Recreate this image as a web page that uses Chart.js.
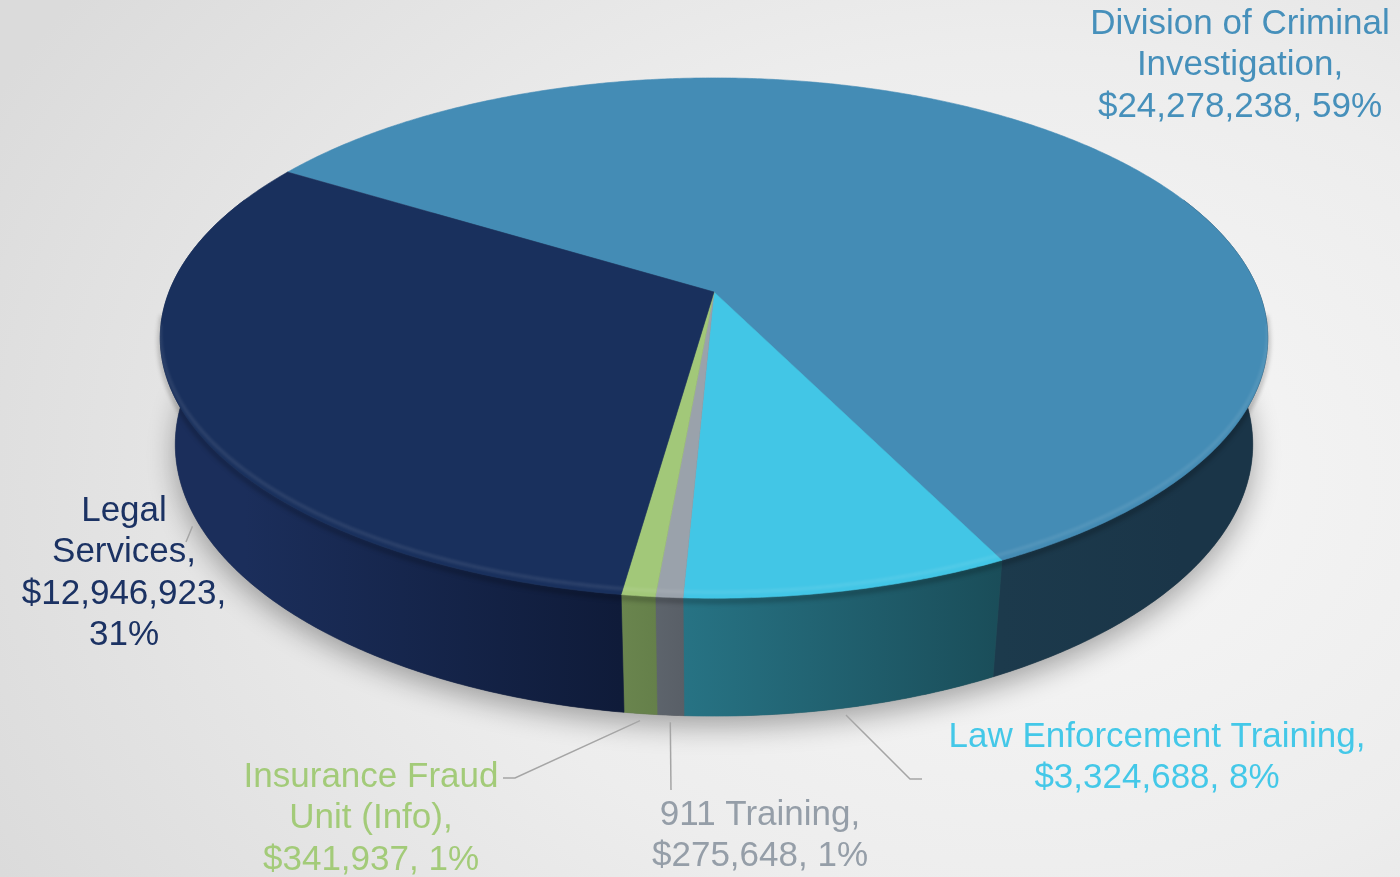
<!DOCTYPE html>
<html>
<head>
<meta charset="utf-8">
<style>
  html, body { margin: 0; padding: 0; }
  body {
    width: 1400px; height: 877px; overflow: hidden;
    background: radial-gradient(ellipse 1150px 850px at 1020px 480px, #f7f7f7 0%, #ededed 50%, #dbdbdb 100%);
  }
  #wrap { position: relative; width: 1400px; height: 877px; }
</style>
<script src="https://cdn.jsdelivr.net/npm/chart.js@4/dist/chart.umd.min.js"></script>
</head>
<body>
<div id="wrap"><canvas id="pie" width="1400" height="877"></canvas></div>
<script>
// data
const categories = ['Division of Criminal Investigation', 'Law Enforcement Training', '911 Training', 'Insurance Fraud Unit (Info)', 'Legal Services'];
const amounts = [24278238, 3324688, 275648, 341937, 12946923];
const labelNames = ['Division of Criminal\nInvestigation,', 'Law Enforcement Training,', '911 Training,', 'Insurance Fraud\nUnit (Info),', 'Legal\nServices,'];
const valueBreak = [' ', ' ', ' ', ' ', '\n'];

// styles
const topColors = ['#448cb5', '#42c6e6', '#9aa2ab', '#a2c879', '#19305d'];
const sideColors = [['#1a3548', '#1c3a4c'], ['#1a4d59', '#277384'], ['#595f67', '#5d646c'], ['#65804a', '#6a854e'], ['#0f1b39', '#1b2e5b']];
const labelColors = ['#4690bb', '#44c8e8', '#959ea8', '#a3cb79', '#1b3263'];
const labelPos = [[1240, 24], [1157, 737], [760, 815], [371, 777], [124, 511]];
// leader: elbow points after the rim start (null = no leader)
const leaderPts = [null, [[910, 779], [922, 779]], [[671, 790]], [[515, 778], [503, 778]], [[186, 542]]];

// perspective geometry of the pie disc
const geo = { cx: 714, cy: 292, A: 545, B: 252, k: 0.177, E: 108.5, m: 0.027 };

function proj(t, low) {
  const u = Math.cos(t), v = Math.sin(t);
  const w = 1 - geo.k * v + (low ? geo.m : 0);
  return [geo.cx + geo.A * u / w, geo.cy + (geo.B * v + (low ? geo.E : 0)) / w];
}

function steps(a, b) {
  const n = Math.max(2, Math.ceil(Math.abs(b - a) / 0.008));
  const out = [];
  for (let i = 0; i <= n; i++) out.push(a + (b - a) * i / n);
  return out;
}

// front parts of [s, e] that need a side wall
function frontParts(s, e) {
  const lo = -0.4, hi = Math.PI + 0.4, parts = [];
  for (let j = -1; j <= 1; j++) {
    const a = Math.max(s, lo + j * 2 * Math.PI), b = Math.min(e, hi + j * 2 * Math.PI);
    if (b > a) parts.push([a, b]);
  }
  return parts;
}

const pie3d = {
  id: 'pie3d',
  beforeDatasetsDraw(chart) {
    const ctx = chart.ctx;
    const arcs = chart.getDatasetMeta(0).data;

    // soft shadow under the disc
    ctx.save();
    ctx.beginPath();
    steps(0, 2 * Math.PI).forEach((t, i) => { const p = proj(t, true); i ? ctx.lineTo(p[0], p[1]) : ctx.moveTo(p[0], p[1]); });
    ctx.closePath();
    ctx.shadowColor = 'rgba(0,0,0,0.33)';
    ctx.shadowBlur = 28;
    ctx.shadowOffsetY = 10;
    ctx.fillStyle = '#555';
    ctx.fill();
    ctx.restore();

    // side walls
    arcs.forEach((arc, i) => {
      frontParts(arc.startAngle, arc.endAngle).forEach(([a, b]) => {
        const top = steps(a, b).map(t => proj(t, false));
        const low = steps(b, a).map(t => proj(t, true));
        ctx.beginPath();
        top.concat(low).forEach((p, j) => { j ? ctx.lineTo(p[0], p[1]) : ctx.moveTo(p[0], p[1]); });
        ctx.closePath();
        const g = ctx.createLinearGradient(top[0][0], 0, top[top.length - 1][0], 0);
        g.addColorStop(0, sideColors[i][0]);
        g.addColorStop(1, sideColors[i][1]);
        ctx.fillStyle = g;
        ctx.fill();
        ctx.strokeStyle = g;
        ctx.lineWidth = 0.6;
        ctx.stroke();
      });
    });

    // dark soft edge just under the top rim
    ctx.save();
    ctx.beginPath();
    steps(0.08, Math.PI - 0.08).forEach((t, i) => { const p = proj(t, false); i ? ctx.lineTo(p[0], p[1] + 3) : ctx.moveTo(p[0], p[1] + 3); });
    ctx.strokeStyle = 'rgba(0,0,0,0.22)';
    ctx.lineWidth = 5;
    ctx.filter = 'blur(2px)';
    ctx.stroke();
    ctx.restore();

    // top faces
    arcs.forEach((arc, i) => {
      ctx.beginPath();
      ctx.moveTo(geo.cx, geo.cy);
      steps(arc.startAngle, arc.endAngle).forEach(t => { const p = proj(t, false); ctx.lineTo(p[0], p[1]); });
      ctx.closePath();
      ctx.fillStyle = topColors[i];
      ctx.fill();
      ctx.strokeStyle = topColors[i];
      ctx.lineWidth = 0.6;
      ctx.stroke();
    });

    // light bevel line inside the front rim
    ctx.save();
    ctx.beginPath();
    steps(0.15, Math.PI - 0.15).forEach((t, i) => { const p = proj(t, false); i ? ctx.lineTo(p[0], p[1] - 6) : ctx.moveTo(p[0], p[1] - 6); });
    ctx.strokeStyle = 'rgba(255,255,255,0.10)';
    ctx.lineWidth = 3;
    ctx.filter = 'blur(1.5px)';
    ctx.stroke();
    ctx.restore();

    return false;
  },
  afterDraw(chart) {
    const ctx = chart.ctx;
    const arcs = chart.getDatasetMeta(0).data;
    const total = amounts.reduce((s, v) => s + v, 0);

    // leader lines
    ctx.save();
    ctx.strokeStyle = '#a5a5a5';
    ctx.lineWidth = 1.5;
    arcs.forEach((arc, i) => {
      if (!leaderPts[i]) return;
      const mid = (arc.startAngle + arc.endAngle) / 2;
      const p = proj(mid, true);
      const q = [p[0] + Math.cos(mid) * 4, p[1] + 7];
      ctx.beginPath();
      ctx.moveTo(q[0], q[1]);
      leaderPts[i].forEach(pt => ctx.lineTo(pt[0], pt[1]));
      ctx.stroke();
    });
    ctx.restore();

    // data labels
    ctx.save();
    ctx.font = '35px "Liberation Sans", Arial, sans-serif';
    ctx.textAlign = 'center';
    ctx.textBaseline = 'middle';
    amounts.forEach((v, i) => {
      const pct = Math.round(v / total * 100);
      const text = labelNames[i] + '\n$' + v.toLocaleString('en-US') + ',' + valueBreak[i] + pct + '%';
      ctx.fillStyle = labelColors[i];
      text.split('\n').forEach((line, j) => {
        ctx.fillText(line, labelPos[i][0], labelPos[i][1] + j * 41.5);
      });
    });
    ctx.restore();
  }
};

new Chart(document.getElementById('pie'), {
  type: 'pie',
  data: {
    labels: categories,
    datasets: [{ data: amounts, backgroundColor: topColors, borderWidth: 0 }]
  },
  options: {
    responsive: false,
    animation: false,
    rotation: -58.7,
    plugins: { legend: { display: false }, tooltip: { enabled: false } }
  },
  plugins: [pie3d]
});
</script>
</body>
</html>
